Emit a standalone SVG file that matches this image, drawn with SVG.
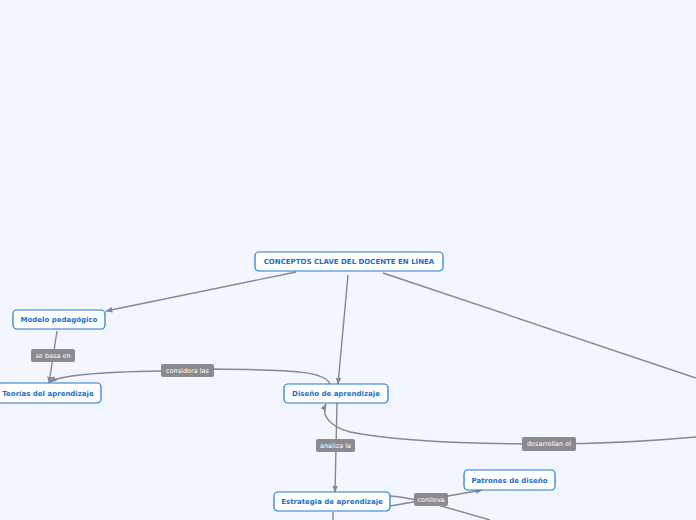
<svg xmlns="http://www.w3.org/2000/svg" width="696" height="520" viewBox="0 0 696 520">
<defs>
<marker id="ah" viewBox="0 0 10 10" refX="9" refY="5" markerWidth="7" markerHeight="7" orient="auto" markerUnits="userSpaceOnUse">
<path d="M0,1 L10,5 L0,9 Z" fill="#858891"/>
</marker>
<style>
.node rect{fill:#ffffff;stroke:#1f78d8;stroke-width:1.2}
.node text{font-family:"DejaVu Sans",Verdana,sans-serif;font-weight:bold;font-size:7px;fill:#1a6fd0;text-anchor:middle;dominant-baseline:central}
.conn path{fill:none;stroke:#858891;stroke-width:1.4}
.lbl rect{fill:#8a8b8f}
.lbl text{font-family:"DejaVu Sans",Verdana,sans-serif;font-size:6.5px;fill:#ffffff;text-anchor:middle;dominant-baseline:central}
</style>
</defs>
<rect width="696" height="520" fill="#f3f6fe"/>
<g id="connectors" class="conn">
<path d="M296,272 L106,311" marker-end="url(#ah)"/>
<path d="M348,275 L338,384" marker-end="url(#ah)"/>
<path d="M383,273 L696,378"/>
<path d="M57,331 L49,383" marker-end="url(#ah)"/>
<path d="M330,384 C325,372 300,370 214,369 L161,371 C100,372 60,375 50,382" marker-end="url(#ah)"/>
<path d="M337,403 L335,492" marker-end="url(#ah)"/>
<path d="M696,437 C640,442 590,444 549,444 C450,444 390,440 350,432 C325,425 322,412 326,404" marker-end="url(#ah)"/>
<path d="M390,506 L431,499 L482,490" marker-end="url(#ah)"/>
<path d="M390,496 C405,497 420,501 431,503 L490,520"/>
<path d="M333,512 L333,520"/>
<g class="lbl">
<rect x="31" y="349" width="44" height="13" rx="2"/><text x="53" y="355.5">se basa en</text>
<rect x="161" y="364" width="53" height="13" rx="2"/><text x="187.5" y="370.5">considera las</text>
<rect x="316" y="439" width="39" height="13" rx="2"/><text x="335.5" y="445.5">analiza la</text>
<rect x="522" y="437" width="54" height="14" rx="2"/><text x="549" y="444">desarrollan el</text>
<rect x="414" y="493" width="34" height="13" rx="2"/><text x="431" y="499.5">conlleva</text>
</g>
</g>
<g id="n-main" class="node"><rect x="255" y="252" width="188" height="19" rx="4"/><text x="349" y="262">CONCEPTOS CLAVE DEL DOCENTE EN LÍNEA</text></g>
<g id="n-modelo" class="node"><rect x="13" y="310" width="92" height="19" rx="4"/><text x="59" y="320">Modelo pedagógico</text></g>
<g id="n-teorias" class="node"><rect x="-3" y="383" width="104" height="20" rx="4"/><text x="48" y="393.5">Teorías del aprendizaje</text></g>
<g id="n-diseno" class="node"><rect x="284" y="384" width="104" height="19" rx="4"/><text x="336" y="394">Diseño de aprendizaje</text></g>
<g id="n-estrategia" class="node"><rect x="274" y="492" width="116" height="19" rx="4"/><text x="332" y="502">Estrategia de aprendizaje</text></g>
<g id="n-patrones" class="node"><rect x="464" y="470" width="91" height="20" rx="4"/><text x="509.5" y="480.5">Patrones de diseño</text></g>
</svg>
